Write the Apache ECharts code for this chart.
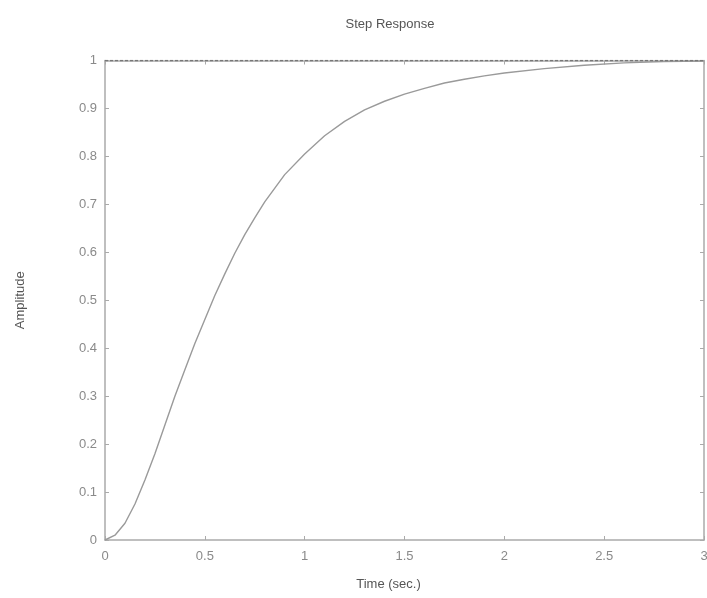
<!DOCTYPE html>
<html><head><meta charset="utf-8">
<script src="https://cdn.jsdelivr.net/npm/echarts@6/dist/echarts.min.js"></script>
<style>html,body{margin:0;padding:0;background:#fff}#c{width:707px;height:598px}</style>
</head><body><div id="c"></div>
<script>
const timeSec = [0, 0.05, 0.1, 0.15, 0.2, 0.25, 0.3, 0.35, 0.4, 0.45, 0.5, 0.55, 0.6, 0.65, 0.7, 0.75, 0.8, 0.9, 1.0, 1.1, 1.2, 1.3, 1.4, 1.5, 1.6, 1.7, 1.8, 1.9, 2.0, 2.2, 2.4, 2.6, 2.8, 3.0];
const amplitude = [0, 0.01, 0.035, 0.075, 0.125, 0.18, 0.24, 0.3, 0.355, 0.41, 0.46, 0.51, 0.555, 0.598, 0.637, 0.672, 0.705, 0.762, 0.805, 0.843, 0.873, 0.897, 0.915, 0.93, 0.942, 0.953, 0.961, 0.968, 0.974, 0.983, 0.99, 0.995, 0.998, 0.999];
const steadyTime = [0, 3];
const steadyValue = [1, 1];
const titleText = "Step Response";
const xLabel = "Time (sec.)";
const yLabel = "Amplitude";

const font = "'Liberation Sans Narrow', 'Liberation Sans', sans-serif";
const axisCol = '#aaa';
const txtCol = '#8a8a8a';
const chart = echarts.init(document.getElementById('c'));
const baseX = {type:'value', min:0, max:3, interval:0.5,
  axisLine:{show:true, onZero:false, lineStyle:{color:axisCol, width:1.5}},
  axisTick:{show:true, inside:true, length:4, lineStyle:{color:axisCol}},
  splitLine:{show:false}};
const baseY = {type:'value', min:0, max:1, interval:0.1,
  axisLine:{show:true, onZero:false, lineStyle:{color:axisCol, width:1.5}},
  axisTick:{show:true, inside:true, length:4, lineStyle:{color:axisCol}},
  splitLine:{show:false}};
chart.setOption({
  animation:false,
  title:{text:titleText, left:385, top:13, textAlign:'center',
    textStyle:{fontFamily:font, fontSize:13, fontWeight:'normal', color:'#555'}},
  grid:{left:105, right:3, top:60.5, bottom:58, outerBoundsMode:'none', containLabel:false},
  xAxis:[
    Object.assign({}, baseX, {position:'bottom', name:xLabel, nameLocation:'middle', nameGap:38,
      nameTextStyle:{fontFamily:font, fontSize:13, color:'#555', padding:[0, 32, 0, 0]},
      axisLabel:{fontFamily:font, fontSize:13, color:txtCol, margin:10, showMaxLabel:true}}),
    Object.assign({}, baseX, {position:'top', axisLabel:{show:false}})
  ],
  yAxis:[
    Object.assign({}, baseY, {position:'left', name:yLabel, nameLocation:'middle', nameGap:78, nameRotate:90,
      nameTextStyle:{fontFamily:font, fontSize:13, color:'#555'},
      axisLabel:{fontFamily:font, fontSize:13, color:txtCol, margin:8}}),
    Object.assign({}, baseY, {position:'right', axisLabel:{show:false}})
  ],
  series:[
    {type:'line', data: timeSec.map((t,i)=>[t, amplitude[i]]), showSymbol:false,
      lineStyle:{color:'#9a9a9a', width:1.4}, clip:false},
    {type:'line', data: steadyTime.map((t,i)=>[t, steadyValue[i]]), showSymbol:false,
      lineStyle:{color:'#777', width:1.5, type:[3,2]}, z:5}
  ]
});
</script></body></html>
